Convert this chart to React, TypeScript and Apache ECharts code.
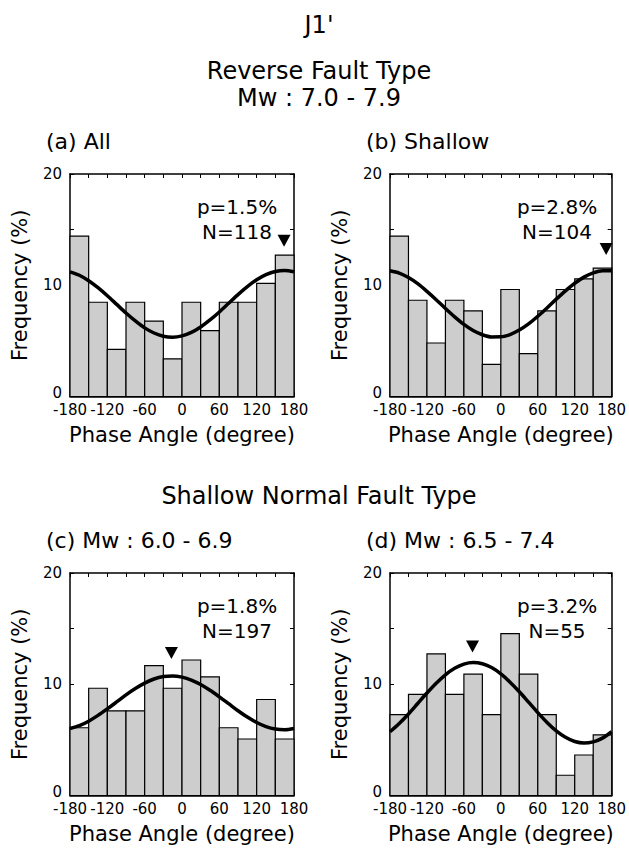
import React, { useEffect, useRef } from "react";
import * as echarts from "echarts";

// 30-degree phase bins shared by every histogram
const BIN_EDGES = [-180, -150, -120, -90, -60, -30, 0, 30, 60, 90, 120, 150, 180];

// Histogram frequencies (%) per bin
const ALL_FREQ = [14.41, 8.47, 4.24, 8.47, 6.78, 3.39, 8.47, 5.93, 8.47, 8.47, 10.17, 12.71];
const SHALLOW_FREQ = [14.42, 8.65, 4.81, 8.65, 7.69, 2.88, 9.62, 3.85, 7.69, 9.62, 10.58, 11.54];
const NORMAL_M60_FREQ = [6.09, 9.64, 7.61, 7.61, 11.68, 9.64, 12.18, 10.66, 6.09, 5.08, 8.63, 5.08];
const NORMAL_M65_FREQ = [7.27, 9.09, 12.73, 9.09, 10.91, 7.27, 14.55, 10.91, 7.27, 1.82, 3.64, 5.45];

// Fitted curve samples (%) every 15 degrees
const CURVE_ANGLES = [
  -180, -165, -150, -135, -120, -105, -90, -75, -60, -45, -30, -15, 0,
  15, 30, 45, 60, 75, 90, 105, 120, 135, 150, 165, 180,
];
const ALL_FIT = [
  11.21, 10.9, 10.41, 9.78, 9.06, 8.28, 7.5, 6.79, 6.17, 5.71, 5.42, 5.33, 5.45,
  5.76, 6.25, 6.88, 7.6, 8.38, 9.16, 9.88, 10.49, 10.95, 11.24, 11.33, 11.21,
];
const SHALLOW_FIT = [
  11.3, 11.09, 10.69, 10.14, 9.45, 8.7, 7.91, 7.16, 6.48, 5.93, 5.55, 5.35, 5.36,
  5.57, 5.97, 6.52, 7.21, 7.96, 8.75, 9.5, 10.18, 10.73, 11.11, 11.31, 11.3,
];
const NORMAL_M60_FIT = [
  6.02, 6.28, 6.68, 7.2, 7.79, 8.41, 9.04, 9.61, 10.1, 10.47, 10.69, 10.75, 10.64,
  10.38, 9.98, 9.46, 8.87, 8.25, 7.62, 7.05, 6.56, 6.19, 5.97, 5.91, 6.02,
];
const NORMAL_M65_FIT = [
  5.73, 6.47, 7.33, 8.27, 9.21, 10.09, 10.85, 11.43, 11.81, 11.95, 11.84, 11.5, 10.93,
  10.19, 9.33, 8.39, 7.45, 6.57, 5.81, 5.23, 4.85, 4.71, 4.82, 5.16, 5.73,
];

// Peak phase marker [angle, frequency]
const ALL_PEAK = [164, 14.0];
const SHALLOW_PEAK = [171, 13.25];
const NORMAL_M60_PEAK = [-17, 12.8];
const NORMAL_M65_PEAK = [-46, 13.4];

// Panel captions and statistics
const PANEL_TITLES = ["(a) All", "(b) Shallow", "(c) Mw : 6.0 - 6.9", "(d) Mw : 6.5 - 7.4"];
const P_VALUES = ["p=1.5%", "p=2.8%", "p=1.8%", "p=3.2%"];
const N_COUNTS = ["N=118", "N=104", "N=197", "N=55"];

const FONT = "'DejaVu Sans', 'Liberation Sans', sans-serif";

const PANELS = [
  { freq: ALL_FREQ, fit: ALL_FIT, peak: ALL_PEAK },
  { freq: SHALLOW_FREQ, fit: SHALLOW_FIT, peak: SHALLOW_PEAK },
  { freq: NORMAL_M60_FREQ, fit: NORMAL_M60_FIT, peak: NORMAL_M60_PEAK },
  { freq: NORMAL_M65_FREQ, fit: NORMAL_M65_FIT, peak: NORMAL_M65_PEAK },
];

const GRID_LEFT = [70, 390, 70, 390];
const GRID_TOP = [174, 174, 573, 573];
const GRID_W = 224;
const GRID_H = 222.5;

function buildOption() {
  const lineStyle = { color: "#000", width: 1.5 };
  const tick = { inside: true, length: 4, lineStyle: { color: "#000", width: 1 } };
  const nameStyle = { fontSize: 21, color: "#000", fontFamily: FONT };
  const labelStyle = { color: "#000", fontSize: 15, fontFamily: FONT };

  const grid: any[] = [];
  const xAxis: any[] = [];
  const yAxis: any[] = [];
  const series: any[] = [];
  const graphic: any[] = [];

  PANELS.forEach((pan, i) => {
    grid.push({ left: GRID_LEFT[i], top: GRID_TOP[i], width: GRID_W, height: GRID_H });

    xAxis.push({
      type: "value",
      gridIndex: i,
      min: -180,
      max: 180,
      interval: 30,
      axisLine: { show: true, onZero: false, lineStyle },
      axisTick: tick,
      splitLine: { show: false },
      axisLabel: {
        ...labelStyle,
        margin: 6,
        showMinLabel: true,
        showMaxLabel: true,
        formatter: (v: number) => (v % 60 === 0 ? String(v) : ""),
      },
      name: "Phase Angle (degree)",
      nameLocation: "middle",
      nameGap: 28,
      nameTextStyle: nameStyle,
    });
    xAxis.push({
      type: "value",
      gridIndex: i,
      position: "top",
      min: -180,
      max: 180,
      interval: 30,
      axisLine: { show: true, onZero: false, lineStyle },
      axisTick: tick,
      splitLine: { show: false },
      axisLabel: { show: false },
    });

    yAxis.push({
      type: "value",
      gridIndex: i,
      min: 0,
      max: 20,
      interval: 5,
      axisLine: { show: true, onZero: false, lineStyle },
      axisTick: tick,
      splitLine: { show: false },
      axisLabel: {
        ...labelStyle,
        margin: 8,
        // the zero label sits a little above the baseline, clear of "-180"
        formatter: (v: number) => (v === 0 ? "{lift|0}" : v % 10 === 0 ? String(v) : ""),
        rich: {
          lift: { ...labelStyle, padding: [0, 0, 8, 0] },
        },
      },
      name: "Frequency (%)",
      nameLocation: "middle",
      nameGap: 40,
      nameTextStyle: nameStyle,
    });
    yAxis.push({
      type: "value",
      gridIndex: i,
      position: "right",
      min: 0,
      max: 20,
      interval: 5,
      axisLine: { show: true, onZero: false, lineStyle },
      axisTick: tick,
      splitLine: { show: false },
      axisLabel: { show: false },
    });

    const xi = 2 * i;
    const yi = 2 * i;

    series.push({
      type: "custom",
      xAxisIndex: xi,
      yAxisIndex: yi,
      z: 1,
      data: pan.freq.map((v, k) => [BIN_EDGES[k], BIN_EDGES[k + 1], v]),
      encode: { x: [0, 1], y: 2 },
      renderItem: (_params: any, api: any) => {
        const p0 = api.coord([api.value(0), api.value(2)]);
        const p1 = api.coord([api.value(1), 0]);
        return {
          type: "rect",
          shape: { x: p0[0], y: p0[1], width: p1[0] - p0[0], height: p1[1] - p0[1] },
          style: { fill: "#cdcdcd", stroke: "#000", lineWidth: 1.2 },
        };
      },
    });

    series.push({
      type: "line",
      xAxisIndex: xi,
      yAxisIndex: yi,
      z: 3,
      smooth: 0.3,
      showSymbol: false,
      data: CURVE_ANGLES.map((a, k) => [a, pan.fit[k]]),
      lineStyle: { color: "#000", width: 3.5 },
    });

    series.push({
      type: "scatter",
      xAxisIndex: xi,
      yAxisIndex: yi,
      z: 4,
      symbol: "triangle",
      symbolRotate: 180,
      symbolSize: [13, 12],
      itemStyle: { color: "#000", opacity: 1 },
      data: [pan.peak],
    });

    // panel caption
    graphic.push({
      type: "text",
      left: GRID_LEFT[i] - 24,
      top: GRID_TOP[i] - 44,
      style: { text: PANEL_TITLES[i], fill: "#000", fontSize: 22, fontFamily: FONT },
    });
    // statistics
    graphic.push({
      type: "text",
      x: GRID_LEFT[i] + 167,
      y: GRID_TOP[i] + 33,
      style: {
        text: P_VALUES[i],
        fill: "#000",
        fontSize: 20,
        fontFamily: FONT,
        align: "center",
        verticalAlign: "middle",
      },
    });
    graphic.push({
      type: "text",
      x: GRID_LEFT[i] + 167,
      y: GRID_TOP[i] + 58,
      style: {
        text: N_COUNTS[i],
        fill: "#000",
        fontSize: 20,
        fontFamily: FONT,
        align: "center",
        verticalAlign: "middle",
      },
    });
  });

  const heading = (text: string, y: number) => ({
    type: "text",
    x: 319,
    y,
    style: {
      text,
      fill: "#000",
      fontSize: 24,
      fontFamily: FONT,
      align: "center",
      verticalAlign: "middle",
    },
  });
  graphic.push(heading("J1'", 25));
  graphic.push(heading("Reverse Fault Type", 71));
  graphic.push(heading("Mw : 7.0 - 7.9", 98));
  graphic.push(heading("Shallow Normal Fault Type", 496));

  return {
    animation: false,
    backgroundColor: "#fff",
    grid,
    xAxis,
    yAxis,
    series,
    graphic,
  };
}

export default function App() {
  const ref = useRef<HTMLDivElement>(null);
  useEffect(() => {
    if (!ref.current) return;
    const chart = echarts.init(ref.current, undefined, { renderer: "svg" });
    chart.setOption(buildOption() as any);
    return () => chart.dispose();
  }, []);
  return (
    <div
      ref={ref}
      style={{ position: "absolute", left: 0, top: 0, width: 629, height: 852, background: "#fff" }}
    />
  );
}
